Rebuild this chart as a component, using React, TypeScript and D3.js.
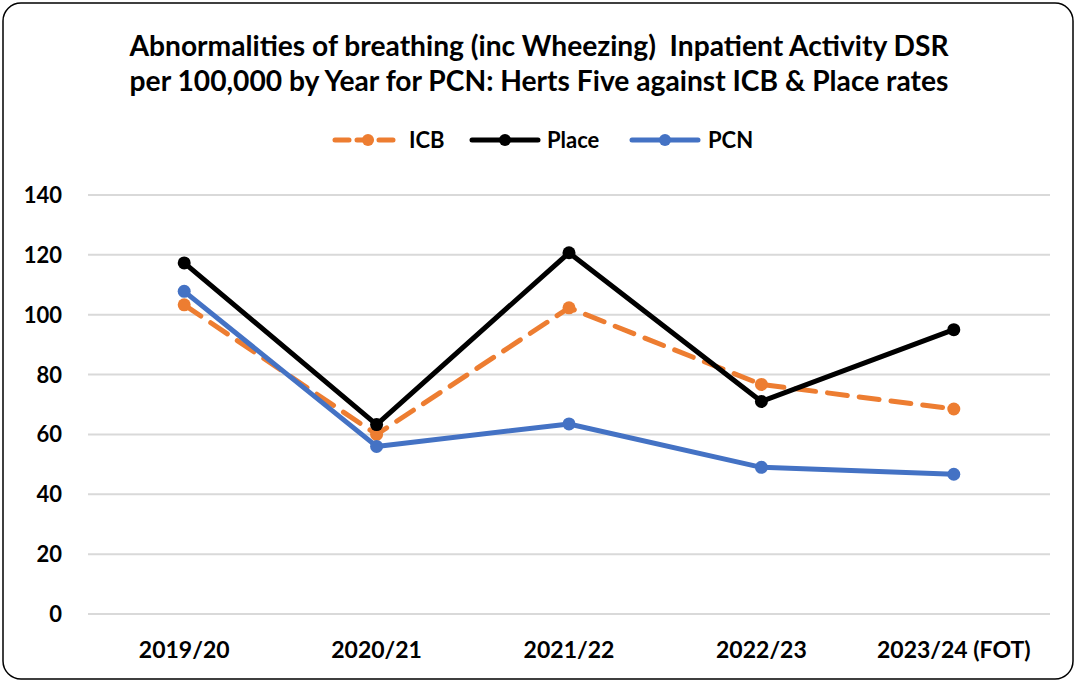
import React from "react";
import * as d3 from "d3";

const categories = ["2019/20", "2020/21", "2021/22", "2022/23", "2023/24 (FOT)"];
const icbValues = [103.3, 60.0, 102.3, 76.7, 68.5];
const placeValues = [117.3, 63.3, 120.7, 71.0, 95.0];
const pcnValues = [107.8, 56.0, 63.5, 49.0, 46.7];
const yTicks = [0, 20, 40, 60, 80, 100, 120, 140];
const titleLines = [
  "Abnormalities of breathing (inc Wheezing)  Inpatient Activity DSR",
  "per 100,000 by Year for PCN: Herts Five against ICB & Place rates",
];

const series = [
  { name: "ICB", values: icbValues, color: "#ED7D31", dash: "20 12" },
  { name: "Place", values: placeValues, color: "#000000", dash: "" },
  { name: "PCN", values: pcnValues, color: "#4472C4", dash: "" },
];

const W = 1076;
const H = 682;
const FONT = "Lato, 'Open Sans', sans-serif";

export default function App() {
  const x = d3.scaleBand<string>().domain(categories).range([88, 1050]);
  const y = d3.scaleLinear().domain([0, 140]).range([614, 195]);
  const cx = (c: string) => (x(c) as number) + x.bandwidth() / 2;
  const line = d3
    .line<number>()
    .x((_, i) => cx(categories[i]))
    .y((v) => y(v));

  const legendItems = [
    { ...series[0], lx: 335, tx: 409 },
    { ...series[1], lx: 472, tx: 547 },
    { ...series[2], lx: 632, tx: 708 },
  ];

  return (
    <svg
      width={W}
      height={H}
      style={{ position: "fixed", left: 0, top: 0, background: "#fff" }}
      fontFamily={FONT}
    >
      <rect x={3} y={3} width={W - 6} height={H - 6} rx={18} ry={18} fill="#fff" stroke="#000" strokeWidth={1.5} />
      {titleLines.map((t, i) => (
        <text
          key={i}
          x={539}
          y={56 + i * 35}
          textAnchor="middle"
          fontSize={28.2}
          fontWeight="bold"
          fill="#000"
          style={{ whiteSpace: "pre" }}
        >
          {t}
        </text>
      ))}
      {legendItems.map((s) => (
        <g key={s.name}>
          <line
            x1={s.lx}
            x2={s.lx + 66}
            y1={140}
            y2={140}
            stroke={s.color}
            strokeWidth={5}
            strokeDasharray={s.name === "ICB" ? "14 8" : ""}
            strokeLinecap="round"
          />
          <circle cx={s.lx + 33} cy={140} r={6} fill={s.color} />
          <text x={s.tx} y={148} fontSize={22} fontWeight="bold" fill="#000">
            {s.name}
          </text>
        </g>
      ))}
      {yTicks.map((t) => (
        <g key={t}>
          <line x1={88} x2={1050} y1={y(t)} y2={y(t)} stroke="#d9d9d9" strokeWidth={2} />
          <text x={62} y={y(t) + 8} textAnchor="end" fontSize={22} fontWeight="bold" fill="#000">
            {t}
          </text>
        </g>
      ))}
      {categories.map((c) => (
        <text key={c} x={cx(c)} y={658} textAnchor="middle" fontSize={23} fontWeight="bold" fill="#000">
          {c}
        </text>
      ))}
      {series.map((s) => (
        <g key={s.name}>
          <path
            d={line(s.values) as string}
            fill="none"
            stroke={s.color}
            strokeWidth={5}
            strokeDasharray={s.dash}
            strokeLinejoin="round"
            strokeLinecap={s.dash ? "round" : "butt"}
          />
          {s.values.map((v, i) => (
            <circle key={i} cx={cx(categories[i])} cy={y(v)} r={6.5} fill={s.color} />
          ))}
        </g>
      ))}
    </svg>
  );
}
